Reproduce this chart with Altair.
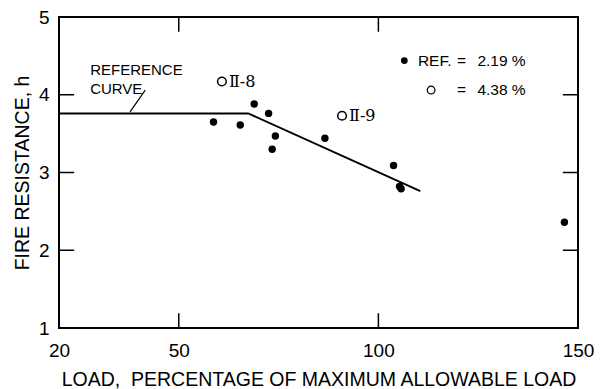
import altair as alt
import pandas as pd

# ---- data ----
load_filled = [58.7, 65.4, 68.9, 72.5, 74.2, 73.4, 86.6, 103.8, 105.3, 105.7, 146.6]
fr_filled = [3.65, 3.61, 3.88, 3.76, 3.47, 3.30, 3.44, 3.09, 2.82, 2.79, 2.36]

load_open = [60.8, 90.9]
fr_open = [4.17, 3.73]
open_labels = ["Ⅱ-8", "Ⅱ-9"]

curve_load = [20, 67.4, 110.5]
curve_fr = [3.76, 3.76, 2.76]

x_tick_values = [20, 50, 100, 150]
y_tick_values = [1, 2, 3, 4, 5]
x_inner_ticks = [50, 100]
y_inner_ticks = [2, 3, 4]

ref_text = ["REFERENCE", "CURVE"]
ref_text_x = [27.8, 27.8]
ref_text_y = [4.32, 4.07]
leader = dict(x=[41.6], y=[4.06], x2=[37.8], y2=[3.78])

legend_sym_x = [106.5, 113.2]
legend_sym_y = [4.44, 4.06]
legend_sym_filled = [True, False]
legend_txt = ["REF.", "=", "2.19 %", "=", "4.38 %"]
legend_txt_x = [109.9, 120.8, 124.8, 120.8, 124.8]
legend_txt_y = [4.44, 4.44, 4.44, 4.06, 4.06]
legend_txt_align = ["left", "center", "left", "center", "left"]

FONT = "Liberation Sans"
XMIN, XMAX, YMIN, YMAX = 20, 150, 1, 5
TICK_X_UNITS = 3.8   # inward tick length along x (~15 px)
TICK_Y_UNITS = 0.19  # inward tick length along y (~15 px)

xs = alt.Scale(domain=[XMIN, XMAX], nice=False, zero=False)
ys = alt.Scale(domain=[YMIN, YMAX], nice=False, zero=False)

x_axis = alt.Axis(values=x_tick_values, tickSize=0, domain=False, grid=False,
                  labelFontSize=19, labelFont=FONT, labelColor="black", labelPadding=13,
                  labelFlush=False, labelOverlap=False,
                  title="LOAD,\u00a0 PERCENTAGE OF MAXIMUM ALLOWABLE LOAD",
                  titleFont=FONT, titleFontSize=19.5, titleFontWeight="normal",
                  titleColor="black", titleY=51, titleBaseline="middle")
y_axis = alt.Axis(values=y_tick_values, tickSize=0, domain=False, grid=False,
                  labelFontSize=19, labelFont=FONT, labelColor="black", labelPadding=10,
                  labelFlush=False, labelOverlap=False,
                  title="FIRE RESISTANCE, h",
                  titleFont=FONT, titleFontSize=19.5, titleFontWeight="normal",
                  titleColor="black", titleX=-37, titleBaseline="middle")


def X(f):
    return alt.X(f, type="quantitative", scale=xs, axis=x_axis)


def Y(f):
    return alt.Y(f, type="quantitative", scale=ys, axis=y_axis)


curve_df = pd.DataFrame({"load": curve_load, "fr": curve_fr})
filled_df = pd.DataFrame({"load": load_filled, "fr": fr_filled})
open_df = pd.DataFrame({"load": load_open, "fr": fr_open, "lab": open_labels})
ref_df = pd.DataFrame({"load": ref_text_x, "fr": ref_text_y, "t": ref_text})
leader_df = pd.DataFrame(leader)
leg_sym_df = pd.DataFrame({"load": legend_sym_x, "fr": legend_sym_y, "f": legend_sym_filled})
leg_txt_df = pd.DataFrame({"load": legend_txt_x, "fr": legend_txt_y, "t": legend_txt,
                           "a": legend_txt_align})

curve = alt.Chart(curve_df).mark_line(color="black", strokeWidth=2).encode(
    x=X("load"), y=Y("fr"))
filled = alt.Chart(filled_df).mark_circle(color="black", size=55, opacity=1).encode(
    x=X("load"), y=Y("fr"))
opened = alt.Chart(open_df).mark_point(shape="circle", filled=False, color="black",
                                       strokeWidth=1.5, size=75, opacity=1).encode(
    x=X("load"), y=Y("fr"))
open_lab = alt.Chart(open_df).mark_text(align="left", baseline="middle", dx=7,
                                        font="DejaVu Serif", fontSize=16,
                                        color="black").encode(
    x=X("load"), y=Y("fr"), text="lab")
ref_lab = alt.Chart(ref_df).mark_text(align="left", baseline="middle", font=FONT,
                                      fontSize=15, color="black").encode(
    x=X("load"), y=Y("fr"), text="t")
lead = alt.Chart(leader_df).mark_rule(color="black", strokeWidth=1.2).encode(
    x=X("x"), y=Y("y"), x2="x2", y2="y2")

leg_fill = alt.Chart(leg_sym_df[leg_sym_df.f]).mark_circle(color="black", size=45,
                                                           opacity=1).encode(
    x=X("load"), y=Y("fr"))
leg_open = alt.Chart(leg_sym_df[~leg_sym_df.f]).mark_point(shape="circle", filled=False,
                                                           color="black", strokeWidth=1.2,
                                                           size=60, opacity=1).encode(
    x=X("load"), y=Y("fr"))
leg_txt_layers = []
for al in ["left", "center"]:
    leg_txt_layers.append(
        alt.Chart(leg_txt_df[leg_txt_df.a == al]).mark_text(
            align=al, baseline="middle", font=FONT, fontSize=15.5, color="black").encode(
            x=X("load"), y=Y("fr"), text="t"))

# inward ticks
bt = pd.DataFrame({"x": x_inner_ticks, "y": [YMIN] * 2, "y2": [YMIN + TICK_Y_UNITS] * 2})
tt = pd.DataFrame({"x": x_inner_ticks, "y": [YMAX] * 2, "y2": [YMAX - TICK_Y_UNITS] * 2})
lt = pd.DataFrame({"y": y_inner_ticks, "x": [XMIN] * 3, "x2": [XMIN + TICK_X_UNITS] * 3})
rt = pd.DataFrame({"y": y_inner_ticks, "x": [XMAX] * 3, "x2": [XMAX - TICK_X_UNITS] * 3})
ticks = []
for d in (bt, tt):
    ticks.append(alt.Chart(d).mark_rule(color="black", strokeWidth=1.5).encode(
        x=X("x"), y=Y("y"), y2="y2"))
for d in (lt, rt):
    ticks.append(alt.Chart(d).mark_rule(color="black", strokeWidth=1.5).encode(
        x=X("x"), x2="x2", y=Y("y")))

chart = alt.layer(curve, filled, opened, open_lab, ref_lab, lead, leg_fill, leg_open,
                  *leg_txt_layers, *ticks).properties(
    width=519, height=311,
    autosize=alt.AutoSizeParams(type="none"),
    padding={"left": 51, "top": 9, "right": 20, "bottom": 62},
    background="white",
).configure_view(stroke="black", strokeWidth=2)

chart.save("out.html", embed_options={"renderer": "svg", "actions": False})
